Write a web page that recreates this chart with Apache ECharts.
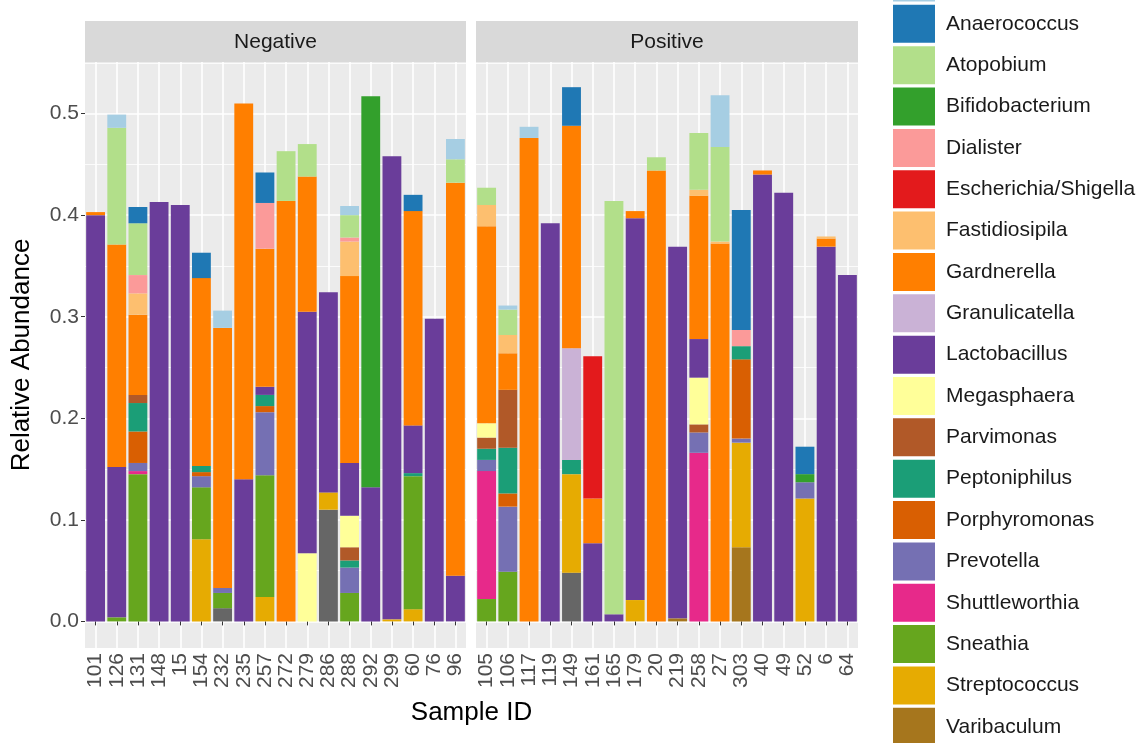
<!DOCTYPE html>
<html><head><meta charset="utf-8">
<script src="https://cdn.jsdelivr.net/npm/echarts@6/dist/echarts.min.js"></script>
<style>html,body{margin:0;padding:0;background:#fff}#c{width:1141px;height:743px}</style>
</head><body><div id="c"></div>
<script>
// Sample IDs per facet
const negSamples = ['101','126','131','148','15','154','232','235','257','272','279','286','288','292','299','60','76','96'];
const posSamples = ['105','106','117','119','149','161','165','179','20','219','258','27','303','40','49','52','6','64'];
const facetNames = ['Negative','Positive'];
const yTicks = [0, 0.1, 0.2, 0.3, 0.4, 0.5];
const yMinorTicks = [0.05, 0.15, 0.25, 0.35, 0.45, 0.55];

// Genus levels (legend order; first level is stacked on top)
const genera = ['Aerococcus','Anaerococcus','Atopobium','Bifidobacterium','Dialister','Escherichia/Shigella',
  'Fastidiosipila','Gardnerella','Granulicatella','Lactobacillus','Megasphaera','Parvimonas','Peptoniphilus',
  'Porphyromonas','Prevotella','Shuttleworthia','Sneathia','Streptococcus','Varibaculum','Veillonella'];
const generaColors = ['#A6CEE3','#1F78B4','#B2DF8A','#33A02C','#FB9A99','#E31A1C','#FDBF6F','#FF7F00','#CAB2D6',
  '#6A3D9A','#FFFF99','#B15928','#1B9E77','#D95F02','#7570B3','#E7298A','#66A61E','#E6AB02','#A6761D','#666666'];

// Relative abundance values (Negative facet, then Positive facet), in sample order above
const aerococcusNeg      = [0,0.013,0,0,0,0,0.017,0,0,0,0,0,0.009,0,0,0,0,0.020];
const aerococcusPos      = [0,0.004,0.011,0,0,0,0,0,0,0,0,0.051,0,0,0,0,0,0];
const anaerococcusNeg    = [0,0,0.016,0,0,0.025,0,0,0.030,0,0,0,0,0,0,0.016,0,0];
const anaerococcusPos    = [0,0,0,0,0.038,0,0,0,0,0,0,0,0.118,0,0,0.027,0,0];
const atopobiumNeg       = [0,0.115,0.051,0,0,0,0,0,0,0.049,0.032,0,0.022,0,0,0,0,0.023];
const atopobiumPos       = [0.017,0.025,0,0,0,0,0.407,0,0.013,0,0.056,0.093,0,0,0,0,0,0];
const bifidobacteriumNeg = [0,0,0,0,0,0,0,0,0,0,0,0,0,0.385,0,0,0,0];
const bifidobacteriumPos = [0,0,0,0,0,0,0,0,0,0,0,0,0,0,0,0.008,0,0];
const dialisterNeg       = [0,0,0.018,0,0,0,0,0,0.045,0,0,0,0.004,0,0,0,0,0];
const dialisterPos       = [0,0,0,0,0,0,0,0,0,0,0,0,0.016,0,0,0,0,0];
const escherichiaNeg     = [0,0,0,0,0,0,0,0,0,0,0,0,0,0,0,0,0,0];
const escherichiaPos     = [0,0,0,0,0,0.140,0,0,0,0,0,0,0,0,0,0,0,0];
const fastidiosipilaNeg  = [0,0,0.021,0,0,0,0,0,0,0,0,0,0.034,0,0,0,0,0];
const fastidiosipilaPos  = [0.021,0.018,0,0,0,0,0,0,0,0,0.006,0.002,0,0,0,0,0.002,0];
const gardnerellaNeg     = [0.003,0.219,0.079,0,0,0.185,0.256,0.370,0.136,0.414,0.133,0,0.184,0,0,0.211,0,0.387];
const gardnerellaPos     = [0.194,0.036,0.476,0,0.219,0.044,0,0.007,0.444,0,0.141,0.372,0,0.004,0,0,0.008,0];
const granulicatellaNeg  = [0,0,0,0,0,0,0,0,0,0,0,0,0,0,0,0,0,0];
const granulicatellaPos  = [0,0,0,0,0.110,0,0,0,0,0,0,0,0,0,0,0,0,0];
const lactobacillusNeg   = [0.400,0.148,0,0.413,0.410,0,0,0.140,0.008,0,0.238,0.197,0.052,0.132,0.456,0.047,0.298,0.045];
const lactobacillusPos   = [0,0,0,0.392,0,0.077,0.007,0.376,0,0.366,0.038,0,0,0.440,0.422,0,0.369,0.341];
const megasphaeraNeg     = [0,0,0,0,0,0,0,0,0,0,0.067,0,0.031,0,0,0,0,0];
const megasphaeraPos     = [0.014,0,0,0,0,0,0,0,0,0,0.046,0,0,0,0,0,0,0];
const parvimonasNeg      = [0,0,0.008,0,0,0,0,0,0,0,0,0,0.013,0,0,0,0,0];
const parvimonasPos      = [0.011,0.057,0,0,0,0,0,0,0,0,0.008,0,0,0,0,0,0,0];
const peptoniphilusNeg   = [0,0,0.028,0,0,0.006,0,0,0.011,0,0,0,0.007,0,0,0.003,0,0];
const peptoniphilusPos   = [0.011,0.045,0,0,0.014,0,0,0,0,0,0,0,0.013,0,0,0,0,0];
const porphyromonasNeg   = [0,0,0.031,0,0,0.004,0,0,0.006,0,0,0,0,0,0,0,0,0];
const porphyromonasPos   = [0,0.013,0,0,0,0,0,0,0,0,0,0,0.078,0,0,0,0,0];
const prevotellaNeg      = [0,0,0.008,0,0,0.011,0.005,0,0.062,0,0,0,0.025,0,0,0,0,0];
const prevotellaPos      = [0.011,0.064,0,0,0,0,0,0,0,0,0.020,0,0.004,0,0,0.016,0,0];
const shuttleworthiaNeg  = [0,0,0.003,0,0,0,0,0,0,0,0,0,0,0,0,0,0,0];
const shuttleworthiaPos  = [0.126,0,0,0,0,0,0,0,0,0,0.166,0,0,0,0,0,0,0];
const sneathiaNeg        = [0,0.004,0.145,0,0,0.051,0.015,0,0.120,0,0,0,0.028,0,0,0.131,0,0];
const sneathiaPos        = [0.022,0.049,0,0,0,0,0,0,0,0,0,0,0,0,0,0,0,0];
const streptococcusNeg   = [0,0,0,0,0,0.081,0,0,0.024,0,0,0.017,0,0,0.002,0.012,0,0];
const streptococcusPos   = [0,0,0,0,0.097,0,0,0.021,0,0,0,0,0.103,0,0,0.121,0,0];
const varibaculumNeg     = [0,0,0,0,0,0,0,0,0,0,0,0,0,0,0,0,0,0];
const varibaculumPos     = [0,0,0,0,0,0,0,0,0,0.003,0,0,0.073,0,0,0,0,0];
const veillonellaNeg     = [0,0,0,0,0,0,0.013,0,0,0,0,0.110,0,0,0,0,0,0];
const veillonellaPos     = [0,0,0,0,0.048,0,0,0,0,0,0,0,0,0,0,0,0,0];

const negByGenus = [aerococcusNeg, anaerococcusNeg, atopobiumNeg, bifidobacteriumNeg, dialisterNeg, escherichiaNeg,
  fastidiosipilaNeg, gardnerellaNeg, granulicatellaNeg, lactobacillusNeg, megasphaeraNeg, parvimonasNeg,
  peptoniphilusNeg, porphyromonasNeg, prevotellaNeg, shuttleworthiaNeg, sneathiaNeg, streptococcusNeg,
  varibaculumNeg, veillonellaNeg];
const posByGenus = [aerococcusPos, anaerococcusPos, atopobiumPos, bifidobacteriumPos, dialisterPos, escherichiaPos,
  fastidiosipilaPos, gardnerellaPos, granulicatellaPos, lactobacillusPos, megasphaeraPos, parvimonasPos,
  peptoniphilusPos, porphyromonasPos, prevotellaPos, shuttleworthiaPos, sneathiaPos, streptococcusPos,
  varibaculumPos, veillonellaPos];

const FONT = '"Liberation Sans", Arial, Helvetica, sans-serif';
const TXT = 21, TITLE = 26;
const Y_MIN = -0.0262, Y_MAX = 0.5508;
const PANEL_TOP = 62, PANEL_H = 586;
const panels = [{left: 85, width: 381}, {left: 476, width: 382}];

const series = [];
// bottom of stack first (last level), so first level ends up on top
for (let g = genera.length - 1; g >= 0; g--) {
  [negByGenus, posByGenus].forEach((src, p) => {
    series.push({
      type: 'bar', name: genera[g], stack: 'facet' + p,
      xAxisIndex: p, yAxisIndex: p,
      barWidth: '89%',
      itemStyle: {color: generaColors[g]},
      emphasis: {disabled: true},
      data: src[g]
    });
  });
}

const xAxes = [negSamples, posSamples].map((cats, p) => ({
  type: 'category', gridIndex: p, data: cats,
  axisLine: {show: false},
  axisTick: {show: true, alignWithLabel: true, length: 4, lineStyle: {color: '#333333', width: 1}},
  axisLabel: {rotate: 90, interval: 0, fontSize: TXT, color: '#4D4D4D', margin: 5, fontFamily: FONT},
  splitLine: {show: true, alignWithLabel: true, interval: 0, lineStyle: {color: '#FFFFFF', width: 1.6}}
}));

const yAxes = [];
[0, 1].forEach(p => {
  yAxes.push({
    type: 'value', gridIndex: p, min: Y_MIN, max: Y_MAX,
    axisLine: {show: false},
    axisTick: {show: p === 0, length: 4, customValues: yTicks, lineStyle: {color: '#333333'}},
    axisLabel: {show: p === 0, customValues: yTicks, formatter: v => v.toFixed(1), fontSize: TXT,
      color: '#4D4D4D', margin: 6, fontFamily: FONT},
    splitLine: {show: true, lineStyle: {color: '#FFFFFF', width: 1.6}},
    name: p === 0 ? 'Relative Abundance' : '',
    nameLocation: 'middle', nameGap: 50,
    nameTextStyle: {fontSize: TITLE, color: '#000000', fontFamily: FONT}
  });
});
[0, 1].forEach(p => {
  yAxes.push({
    type: 'value', gridIndex: p, min: Y_MIN, max: Y_MAX, position: 'left',
    axisLine: {show: false},
    axisTick: {show: false, customValues: yMinorTicks},
    axisLabel: {show: false, customValues: yMinorTicks},
    splitLine: {show: true, lineStyle: {color: '#FFFFFF', width: 0.8}}
  });
});

const graphics = [];
panels.forEach((pn, p) => {
  graphics.push({type: 'rect', left: pn.left, top: 21, shape: {width: pn.width, height: 41},
    style: {fill: '#D9D9D9'}, silent: true});
  graphics.push({type: 'text', x: pn.left + pn.width / 2, y: 42,
    style: {text: facetNames[p], fill: '#1A1A1A', font: TXT + 'px ' + FONT, textAlign: 'center', textVerticalAlign: 'middle'}, silent: true});
});
graphics.push({type: 'text', x: 471.5, y: 713,
  style: {text: 'Sample ID', fill: '#000000', font: TITLE + 'px ' + FONT, textAlign: 'center', textVerticalAlign: 'middle'}, silent: true});

const option = {
  animation: false,
  backgroundColor: '#FFFFFF',
  textStyle: {fontFamily: FONT},
  grid: panels.map(pn => ({left: pn.left, width: pn.width, top: PANEL_TOP, height: PANEL_H,
    show: true, backgroundColor: '#EBEBEB', borderWidth: 0, containLabel: false})),
  xAxis: xAxes,
  yAxis: yAxes,
  legend: {
    orient: 'vertical', left: 893, top: -36.5, height: 1000, padding: 0,
    itemWidth: 42, itemHeight: 38, itemGap: 3.35, icon: 'rect',
    selectedMode: false, data: genera,
    textStyle: {fontSize: TXT, color: '#1A1A1A', padding: [0, 0, 0, 6], fontFamily: FONT}
  },
  graphic: graphics,
  series: series
};

const chart = echarts.init(document.getElementById('c'), null, {renderer: 'canvas'});
chart.setOption(option);
</script>
</body></html>
